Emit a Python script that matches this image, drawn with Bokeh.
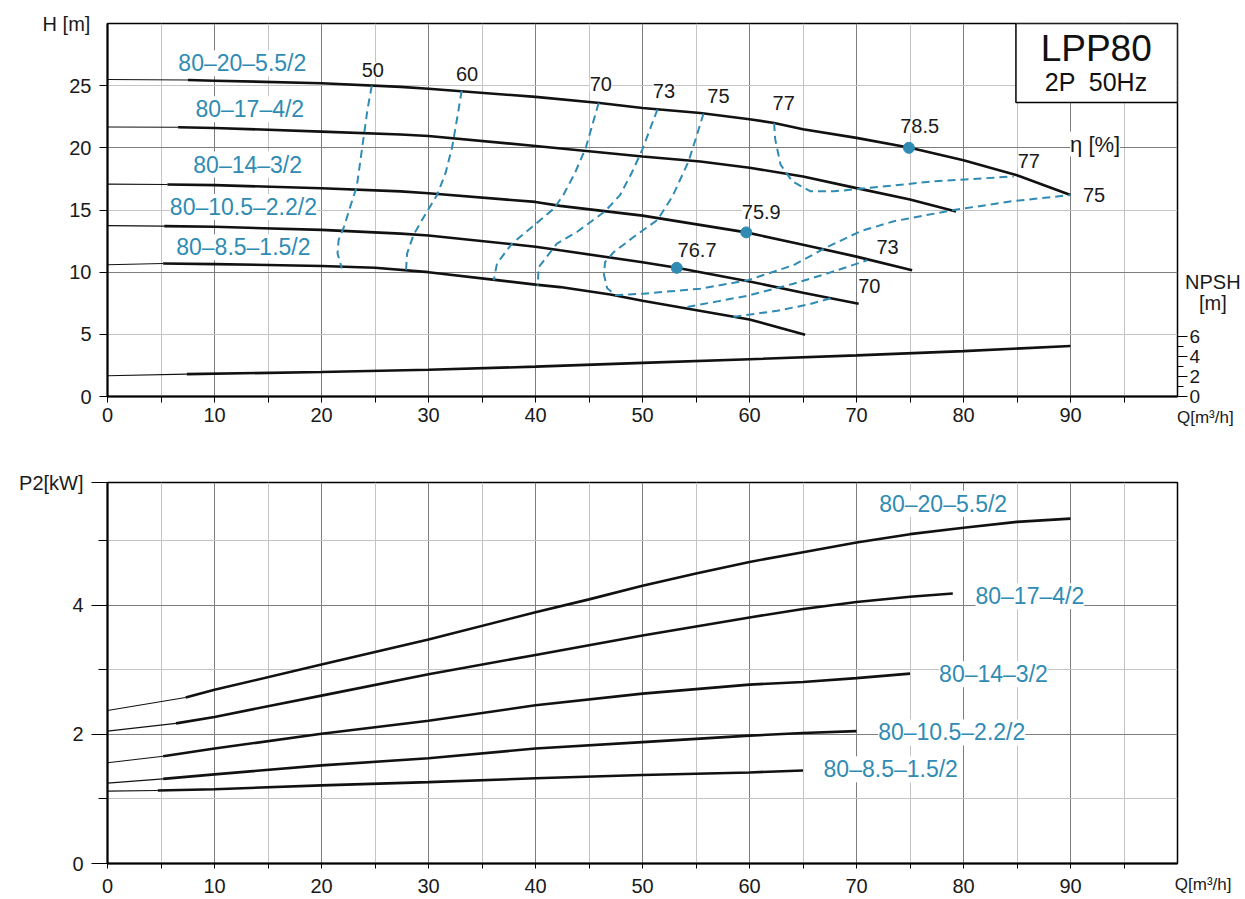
from bokeh.plotting import figure
from bokeh.models import (ColumnDataSource, LabelSet, Label, BoxAnnotation, FixedTicker,
                          LinearAxis, Range1d)
from bokeh.layouts import column
from bokeh.embed import file_html
from bokeh.resources import INLINE
from bokeh.core.properties import value

FONT = "Liberation Sans"
TEAL = "#2f8bb3"
INK = "#111111"
TXT = "#1a1a1a"

# ---------------- data ----------------
models = ["80–20–5.5/2", "80–17–4/2", "80–14–3/2", "80–10.5–2.2/2", "80–8.5–1.5/2"]

# H-Q curves (first segment 0 -> start is the thin extrapolated part)
q_h_20 = [0, 7.5, 10, 20, 27.4, 30, 40, 46, 50, 55.4, 60, 62.3, 65, 70, 75, 80, 85, 90]
h_20 = [25.5, 25.45, 25.4, 25.2, 24.9, 24.75, 24.1, 23.6, 23.2, 22.8, 22.3, 22.0, 21.5, 20.8, 20.0, 19.0, 17.8, 16.2]
q_h_17 = [0, 6.6, 10, 20, 27.4, 30, 40, 50, 55.4, 60, 65, 70, 75, 79.3]
h_17 = [21.67, 21.65, 21.6, 21.3, 21.07, 20.95, 20.15, 19.3, 18.9, 18.4, 17.7, 16.76, 15.85, 14.87]
q_h_14 = [0, 5.6, 10, 20, 27.4, 30, 40, 42.3, 50, 59.7, 65, 70, 75.2]
h_14 = [17.08, 17.05, 17.0, 16.75, 16.5, 16.35, 15.65, 15.33, 14.55, 13.2, 12.2, 11.25, 10.15]
q_h_105 = [0, 5.3, 10, 20, 27.4, 30, 40, 42.3, 50, 53.2, 60, 65, 70.2]
h_105 = [13.74, 13.7, 13.65, 13.4, 13.1, 12.95, 12.05, 11.76, 10.8, 10.35, 9.25, 8.35, 7.46]
q_h_85 = [0, 5.2, 10, 20, 25, 30, 36, 40, 42.3, 47, 50, 54, 60, 65.2]
h_85 = [10.6, 10.7, 10.65, 10.5, 10.35, 10.0, 9.4, 9.0, 8.8, 8.2, 7.7, 7.1, 6.2, 4.97]

# NPSH curve (own axis, m)
q_npsh = [0, 7.4, 20, 30, 40, 50, 60, 70, 80, 90]
npsh = [2.08, 2.25, 2.46, 2.69, 3.0, 3.38, 3.75, 4.13, 4.56, 5.08]

# iso-efficiency curves
e50_q = [24.7, 24.3, 23.8, 23.3, 22.7, 22.1, 21.6, 21.5, 21.9]
e50_h = [25.0, 23.1, 20.0, 16.9, 15.3, 13.65, 12.6, 11.5, 10.3]
e60_q = [33.1, 32.7, 32.2, 31.6, 30.8, 29.6, 28.6, 28.0, 27.9]
e60_h = [24.6, 22.5, 20.0, 18.0, 16.2, 14.5, 13.0, 11.5, 10.15]
e70_q = [45.9, 45.3, 44.7, 43.7, 42.6, 41.7, 39.7, 37.8, 36.4, 36.1]
e70_h = [23.6, 21.8, 20.0, 18.0, 16.2, 15.1, 13.65, 12.3, 10.7, 9.35]
e73_q = [51.4, 50.7, 50.0, 49.0, 47.9, 46.5, 43.9, 42.0, 40.3, 40.2]
e73_h = [23.1, 21.5, 19.9, 18.0, 16.2, 14.9, 13.25, 12.3, 10.4, 8.9]
e73r_q = [54.2, 57.0, 59.8, 64.1, 67.3, 71.0]
e73r_h = [7.2, 7.65, 8.1, 9.07, 9.9, 10.96]
e70r_q = [58.5, 62.6, 65.5, 68.0]
e70r_h = [6.4, 6.9, 7.4, 8.0]
e75_q = [55.7, 55.0, 54.3, 52.8, 51.4, 49.2, 47.3, 46.5, 46.4, 46.7, 47.5, 50.1, 55.4, 59.8, 64.1,
         67.3, 70.4, 73.5, 79.1, 84.5, 90.0]
e75_h = [22.75, 20.8, 18.9, 16.1, 14.2, 12.85, 11.6, 10.8, 9.8, 8.7, 8.15, 8.27, 8.67, 9.34, 10.56,
         12.04, 13.3, 14.1, 15.0, 15.7, 16.2]
e77_q = [62.3, 62.4, 62.9, 64.0, 65.7, 67.9, 71.0, 77.2, 84.7]
e77_h = [22.0, 20.7, 18.65, 17.3, 16.5, 16.5, 16.76, 17.3, 17.7]

# best efficiency points
bep_q = [74.9, 59.7, 53.2]
bep_h = [20.0, 13.2, 10.35]

# efficiency labels
eff_txt = ["50", "60", "70", "73", "75", "77", "78.5", "77", "75", "73", "70", "75.9", "76.7"]
eff_q = [24.8, 33.6, 46.1, 52.0, 57.1, 63.2, 75.9, 86.1, 92.2, 72.9, 71.2, 61.1, 55.1]
eff_h = [26.3, 25.9, 25.1, 24.55, 24.15, 23.6, 21.75, 18.95, 16.2, 12.05, 8.86, 14.85, 11.77]

# model label positions
lbl_top_q = [12.6, 13.3, 13.1, 12.7, 12.7]
lbl_top_h = [26.8, 23.1, 18.65, 15.25, 12.0]
lbl_bot_q = [78.1, 86.2, 82.8, 78.9, 73.2]
lbl_bot_p = [5.57, 4.14, 2.93, 2.03, 1.46]

# P2-Q curves
q_p_20 = [0, 7.3, 10, 20, 30, 40, 45, 50, 55, 60, 65, 70, 75, 80, 85, 90]
p_20 = [2.37, 2.57, 2.69, 3.08, 3.47, 3.89, 4.09, 4.3, 4.49, 4.67, 4.82, 4.97, 5.1, 5.2, 5.29, 5.34]
q_p_17 = [0, 6.4, 10, 20, 30, 40, 50, 60, 65, 70, 75, 79]
p_17 = [2.05, 2.17, 2.27, 2.6, 2.93, 3.23, 3.53, 3.81, 3.94, 4.05, 4.13, 4.18]
q_p_14 = [0, 5.2, 10, 20, 30, 40, 50, 60, 65, 70, 75]
p_14 = [1.56, 1.66, 1.78, 2.01, 2.21, 2.45, 2.63, 2.77, 2.81, 2.87, 2.94]
q_p_105 = [0, 5.2, 10, 20, 30, 40, 50, 60, 65, 70]
p_105 = [1.245, 1.31, 1.38, 1.52, 1.63, 1.78, 1.88, 1.98, 2.02, 2.05]
q_p_85 = [0, 4.7, 10, 20, 30, 40, 50, 60, 65]
p_85 = [1.12, 1.13, 1.15, 1.21, 1.26, 1.32, 1.37, 1.41, 1.44]

x_ticks = [0, 10, 20, 30, 40, 50, 60, 70, 80, 90]
x_minor = [5, 15, 25, 35, 45, 55, 65, 75, 85, 95]
h_ticks = [0, 5, 10, 15, 20, 25]
npsh_ticks = [0, 2, 4, 6]
npsh_minor = [1, 3, 5]
p_ticks = [0, 2, 4, 5.9]
p_minor = [1, 3, 5]

MAJOR_GRID = "#7d7d7d"
MINOR_GRID = "#c4c4c4"


def style_common(p):
    p.outline_line_color = "black"
    p.outline_line_width = 1.5
    p.outline_line_alpha = 1
    p.grid.grid_line_color = MAJOR_GRID
    p.grid.minor_grid_line_color = MINOR_GRID
    p.grid.grid_line_width = 1
    p.grid.minor_grid_line_width = 1
    for ax in p.axis:
        ax.axis_line_width = 2
        ax.axis_line_color = "black"
        ax.major_tick_line_color = "black"
        ax.minor_tick_line_color = "black"
        ax.major_tick_in = 0
        ax.minor_tick_in = 0
        ax.major_label_text_font = FONT
        ax.major_label_text_font_size = "20px"
        ax.major_label_text_color = TXT


def curve(p, q, v, **kw):
    p.line(q[:2], v[:2], line_color=INK, line_width=1.1, **kw)
    p.line(q[1:], v[1:], line_color=INK, line_width=2.6, **kw)


def side_label(p, place, x, y, text, size, align="center"):
    # labels outside the frame live in a side panel so they are not clipped
    p.add_layout(Label(x=x, y=y, text=text, text_align=align, text_baseline="middle",
                       text_font=FONT, text_font_size=size, text_color=TXT), place)


# ---------------- top chart (H / NPSH) ----------------
top = figure(width=1245, height=443, x_range=Range1d(0, 100), y_range=Range1d(0, 30),
             output_backend="svg", toolbar_location=None,
             min_border_left=107, min_border_right=68, min_border_top=23, min_border_bottom=45)
top.extra_y_ranges = {"npsh": Range1d(0, 37.5)}
top.xaxis.ticker = FixedTicker(ticks=x_ticks, minor_ticks=x_minor)
top.yaxis.ticker = FixedTicker(ticks=h_ticks)
top.xgrid.ticker = FixedTicker(ticks=x_ticks[1:], minor_ticks=x_minor)
top.ygrid.ticker = FixedTicker(ticks=[10, 20], minor_ticks=[5, 15, 25])
npsh_axis = LinearAxis(y_range_name="npsh",
                       ticker=FixedTicker(ticks=npsh_ticks, minor_ticks=npsh_minor))
top.add_layout(npsh_axis, "right")
style_common(top)
top.xaxis.major_tick_out = 6
top.xaxis.minor_tick_out = 6
top.xaxis.major_label_standoff = 5
top.yaxis.major_tick_out = 8
top.yaxis.major_label_standoff = 8
npsh_axis.axis_line_color = None
npsh_axis.major_tick_out = 10
npsh_axis.minor_tick_out = 6
npsh_axis.major_label_standoff = 2
npsh_axis.major_label_text_font_size = "19px"

for q, h in [(q_h_20, h_20), (q_h_17, h_17), (q_h_14, h_14), (q_h_105, h_105), (q_h_85, h_85)]:
    curve(top, q, h)
curve(top, q_npsh, npsh, y_range_name="npsh")

for q, h in [(e50_q, e50_h), (e60_q, e60_h), (e70_q, e70_h), (e73_q, e73_h), (e73r_q, e73r_h),
             (e70r_q, e70r_h), (e75_q, e75_h), (e77_q, e77_h)]:
    top.line(q, h, line_color=TEAL, line_width=2.0, line_dash="8 5")

top.scatter(bep_q, bep_h, size=11, color=TEAL)

top.add_layout(LabelSet(x="x", y="y", text="t",
                        source=ColumnDataSource(dict(x=eff_q, y=eff_h, t=eff_txt)),
                        text_align="center", text_baseline="middle",
                        text_font=value(FONT), text_font_size=value("20px"),
                        text_color=TXT, background_fill_color="white"))
top.add_layout(LabelSet(x="x", y="y", text="t",
                        source=ColumnDataSource(dict(x=lbl_top_q, y=lbl_top_h, t=models)),
                        text_align="center", text_baseline="middle",
                        text_font=value(FONT), text_font_size=value("23px"),
                        text_color=TEAL, background_fill_color="white"))

top.add_layout(Label(x=92.3, y=20.3, text="η [%]", text_align="center", text_baseline="middle",
                     text_font=FONT, text_font_size="22px", text_color=TXT,
                     background_fill_color="white"))
top.add_layout(BoxAnnotation(left=84.9, right=100, bottom=23.64, top=30, fill_color="white",
                             fill_alpha=1, line_color="black", line_width=1.5, line_alpha=1))
top.add_layout(Label(x=92.4, y=28.0, text="LPP80", text_align="center", text_baseline="middle",
                     text_font=FONT, text_font_size="37px", text_color=INK))
top.add_layout(Label(x=92.4, y=25.3, text="2P \u00a050Hz", text_align="center",
                     text_baseline="middle", text_font=FONT, text_font_size="25px",
                     text_color=INK))
side_label(top, "left", -1.6, 30.0, "H [m]", "20px", align="right")
side_label(top, "above", 103.3, 9.2, "NPSH", "20px")
side_label(top, "right", 103.3, 7.55, "[m]", "20px")
side_label(top, "below", 102.6, -1.65, "Q[m³/h]", "17px")

# ---------------- bottom chart (P2) ----------------
bot = figure(width=1245, height=456, x_range=Range1d(0, 100), y_range=Range1d(0, 5.9),
             output_backend="svg", toolbar_location=None,
             min_border_left=106, min_border_right=67, min_border_top=39, min_border_bottom=36)
bot.xaxis.ticker = FixedTicker(ticks=x_ticks, minor_ticks=x_minor)
bot.yaxis.ticker = FixedTicker(ticks=p_ticks, minor_ticks=p_minor)
bot.xgrid.ticker = FixedTicker(ticks=x_ticks[1:], minor_ticks=x_minor)
bot.ygrid.ticker = FixedTicker(ticks=[2, 4], minor_ticks=[1, 3, 5])
style_common(bot)
bot.yaxis.major_label_overrides = {5.9: "P2[kW]"}
bot.yaxis.major_tick_out = 16
bot.yaxis.minor_tick_out = 9
bot.yaxis.major_label_standoff = 8
bot.xaxis.major_tick_out = 5
bot.xaxis.minor_tick_out = 5
bot.xaxis.major_label_standoff = 10

for q, pw in [(q_p_20, p_20), (q_p_17, p_17), (q_p_14, p_14), (q_p_105, p_105), (q_p_85, p_85)]:
    curve(bot, q, pw)

bot.add_layout(LabelSet(x="x", y="y", text="t",
                        source=ColumnDataSource(dict(x=lbl_bot_q, y=lbl_bot_p, t=models)),
                        text_align="center", text_baseline="middle",
                        text_font=value(FONT), text_font_size=value("23px"),
                        text_color=TEAL, background_fill_color="white"))
side_label(bot, "above", 102.4, -0.33, "Q[m³/h]", "17px")

layout = column(top, bot, spacing=0)
open("out.html", "w").write(file_html(layout, INLINE))
